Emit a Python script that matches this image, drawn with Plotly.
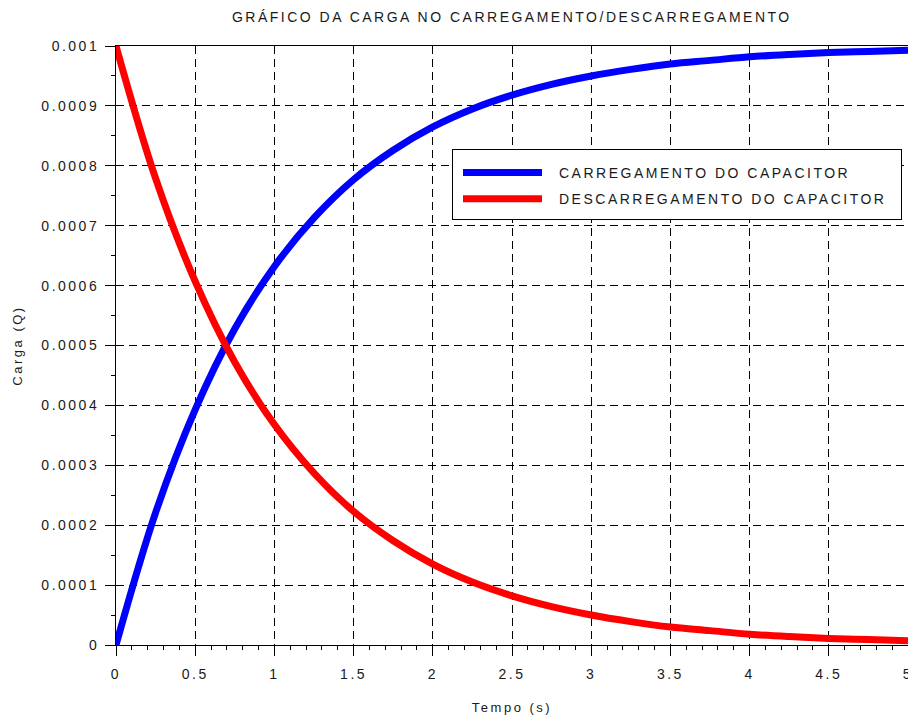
import plotly.graph_objects as go

# Time (s)
tempo = [0, 0.25, 0.5, 0.75, 1.0, 1.25, 1.5, 1.75, 2.0, 2.25, 2.5, 2.75,
         3.0, 3.25, 3.5, 3.75, 4.0, 4.25, 4.5, 4.75, 5.0]
# Charge while charging (C)
carregamento = [0.0, 0.000221, 0.000393, 0.000528, 0.000632, 0.000713, 0.000777,
                0.000826, 0.000865, 0.000895, 0.000918, 0.000936, 0.000950,
                0.000961, 0.000970, 0.000976, 0.000982, 0.000986, 0.000989,
                0.000991, 0.000993]
# Charge while discharging (C)
descarregamento = [0.001, 0.000779, 0.000607, 0.000472, 0.000368, 0.000287,
                   0.000223, 0.000174, 0.000135, 0.000105, 0.000082, 0.000064,
                   0.000050, 0.000039, 0.000030, 0.000024, 0.000018, 0.000014,
                   0.000011, 0.000009, 0.000007]

series_names = ["CARREGAMENTO DO CAPACITOR", "DESCARREGAMENTO DO CAPACITOR"]
series_colors = ["#0000ff", "#ff0000"]

x_tickvals = [0, 0.5, 1, 1.5, 2, 2.5, 3, 3.5, 4, 4.5, 5]
x_ticktext = ["0", "0.5", "1", "1.5", "2", "2.5", "3", "3.5", "4", "4.5", "5"]
y_tickvals = [0, 0.0001, 0.0002, 0.0003, 0.0004, 0.0005, 0.0006, 0.0007,
              0.0008, 0.0009, 0.001]
y_ticktext = ["0", "0.0001", "0.0002", "0.0003", "0.0004", "0.0005", "0.0006",
              "0.0007", "0.0008", "0.0009", "0.001"]

FONT = "Liberation Sans, Arial, sans-serif"
TXT = "#1a1a1a"

fig = go.Figure()
for ys, name, col in zip([carregamento, descarregamento], series_names, series_colors):
    fig.add_trace(go.Scatter(x=tempo, y=ys, mode="lines", name=name,
                             legendgroup=name,
                             line=dict(color=col, width=7, shape="spline")))

fig.update_layout(
    width=908, height=718,
    margin=dict(l=116, r=0, t=46, b=73, autoexpand=False),
    paper_bgcolor="white", plot_bgcolor="white",
    font=dict(family=FONT, size=14, color=TXT),
    title=dict(text="GRÁFICO DA CARGA NO CARREGAMENTO/DESCARREGAMENTO",
               x=0.5637, xanchor="center", y=1 - 17 / 718, yanchor="middle",
               font=dict(family=FONT, size=14, color=TXT)),
    showlegend=True,
    legend=dict(x=(452 - 116) / 792, y=(645 - 149) / 599, xanchor="left", yanchor="top",
                bgcolor="white", bordercolor="black", borderwidth=1,
                font=dict(family=FONT, size=14, color=TXT),
                traceorder="grouped", tracegroupgap=5, itemwidth=90),
    xaxis=dict(range=[0, 5], tickvals=x_tickvals, ticktext=x_ticktext,
               showline=True, linecolor="black", linewidth=1, mirror=True,
               ticks="outside", ticklen=10, tickcolor="black", tickwidth=1,
               ticklabelstandoff=6, ticklabeloverflow="allow",
               showgrid=True, gridcolor="black", gridwidth=1, griddash="8px,5px",
               zeroline=False, tickfont=dict(size=14, color=TXT), automargin=True,
               minor=dict(dtick=0.1, tick0=0, ticks="outside", ticklen=4,
                          tickcolor="black", showgrid=False),
               title=dict(text="Tempo (s)", standoff=22, font=dict(size=13, color=TXT))),
    yaxis=dict(range=[0, 0.001], tickvals=y_tickvals, ticktext=y_ticktext,
               showline=True, linecolor="black", linewidth=1,
               ticks="outside", ticklen=10, tickcolor="black", tickwidth=1,
               ticklabelstandoff=3,
               showgrid=True, gridcolor="black", gridwidth=1, griddash="8px,5px",
               zeroline=False, tickfont=dict(size=14, color=TXT), automargin=True,
               minor=dict(dtick=0.00005, tick0=0, ticks="outside", ticklen=4,
                          tickcolor="black", showgrid=False),
               title=dict(text="Carga (Q)", standoff=30, font=dict(size=13, color=TXT))),
    xaxis2=dict(overlaying="x", anchor="y", side="bottom", range=[0, 5],
                tickvals=x_tickvals, ticks="inside", ticklen=5, tickcolor="black",
                showticklabels=False, showgrid=False, zeroline=False, showline=False),
    yaxis2=dict(overlaying="y", anchor="x", side="left", range=[0, 0.001],
                tickvals=y_tickvals, ticks="inside", ticklen=5, tickcolor="black",
                showticklabels=False, showgrid=False, zeroline=False, showline=False),
)

js = """
var gd = document.getElementById('{plot_id}');
gd.querySelectorAll('text').forEach(function(t){ t.style.letterSpacing = '2.5px'; });
// Scilab-like legend box: wider box, longer line samples, roomier rows
var W = 450, H = 71;
gd.querySelectorAll('.legend rect.bg').forEach(function(r){
  r.setAttribute('width', W - 1); r.setAttribute('height', H - 1);
});
document.querySelectorAll('clipPath').forEach(function(c){
  if (c.id.indexOf('legend') === 0) {
    c.querySelectorAll('rect').forEach(function(r){
      r.setAttribute('width', W + 10); r.setAttribute('height', H + 10);
    });
  }
});
gd.querySelectorAll('.legend .traces').forEach(function(g){
  var tr = g.getAttribute('transform') || '';
  var m = tr.match(/translate\\(([-\\d.e]+)[ ,]+([-\\d.e]+)\\)/);
  if (m) { g.setAttribute('transform', 'translate(' + m[1] + ',' + (parseFloat(m[2]) + 7) + ')'); }
  g.querySelectorAll('.legendlines path').forEach(function(p){ p.setAttribute('d', 'M10,0h79'); });
  g.querySelectorAll('text.legendtext').forEach(function(t){
    t.setAttribute('x', 106);
    t.querySelectorAll('tspan.line').forEach(function(s){ s.setAttribute('x', 106); });
  });
});
"""
fig.write_html("out.html", post_script=js)
